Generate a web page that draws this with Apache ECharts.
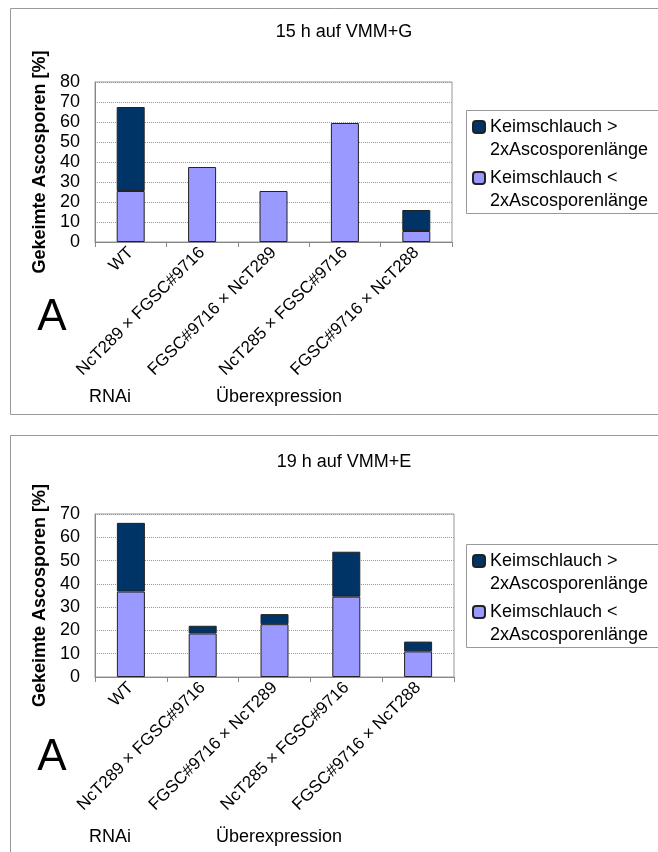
<!DOCTYPE html>
<html>
<head>
<meta charset="utf-8">
<script src="https://cdn.jsdelivr.net/npm/echarts@6/dist/echarts.min.js"></script>
<style>
  html, body { margin: 0; padding: 0; background: #fff; }
  #chart { width: 658px; height: 852px; }
</style>
</head>
<body>
<div id="chart"></div>
<script>
// Kategorien (Kreuzungen)
const categories = ['WT', 'NcT289 × FGSC#9716', 'FGSC#9716 × NcT289', 'NcT285 × FGSC#9716', 'FGSC#9716 × NcT288'];

// 15 h auf VMM+G
const kurz15 = [25.5, 37.5, 25.5, 59.5, 5.5];
const lang15 = [42, null, null, null, 10.5];

// 19 h auf VMM+E
const kurz19 = [36.7, 18.7, 22.7, 34.5, 11];
const lang19 = [29.5, 3.3, 4.3, 19.3, 4.2];

const nameLang = 'Keimschlauch >\n2xAscosporenlänge';
const nameKurz = 'Keimschlauch <\n2xAscosporenlänge';

const FONT = '"Liberation Sans", Arial, sans-serif';
const DARK = '#003366';
const LIGHT = '#9999ff';

const chart = echarts.init(document.getElementById('chart'));

function xAxisFor(idx) {
    return {
        type: 'category',
        gridIndex: idx,
        data: categories,
        axisLine: { lineStyle: { color: '#888' } },
        axisTick: { show: true, length: 5, lineStyle: { color: '#888' } },
        axisLabel: {
            rotate: 45,
            fontSize: 17,
            fontFamily: FONT,
            color: '#000',
            margin: 8,
            interval: 0
        }
    };
}

function yAxisFor(idx, max) {
    return {
        type: 'value',
        gridIndex: idx,
        min: 0,
        max: max,
        interval: 10,
        name: 'Gekeimte Ascosporen [%]',
        nameLocation: 'middle',
        nameGap: 45,
        nameTextStyle: { fontSize: 18, fontWeight: 'bold', fontFamily: FONT, color: '#000' },
        axisLine: { show: true, lineStyle: { color: '#888' } },
        axisTick: { show: false },
        axisLabel: { fontSize: 18, fontFamily: FONT, color: '#000', margin: 15 },
        splitLine: { lineStyle: { type: 'dotted', color: '#999' } }
    };
}

// eine Legende je Eintrag, damit das Symbol auf der ersten Textzeile sitzt
function legendItem(name, top) {
    return {
        data: [name],
        left: 472,
        top: top,
        padding: 0,
        itemWidth: 12,
        itemHeight: 12,
        itemGap: 6,
        selectedMode: false,
        formatter: ' \n{name}',
        textStyle: {
            fontSize: 18,
            fontFamily: FONT,
            color: '#000',
            lineHeight: 23
        }
    };
}

function barSeries(name, data, idx, color) {
    return {
        name: name,
        type: 'bar',
        xAxisIndex: idx,
        yAxisIndex: idx,
        stack: 'stack' + idx,
        data: data,
        barWidth: 28,
        itemStyle: { color: color, borderColor: '#222', borderWidth: 1 }
    };
}

const option = {
    backgroundColor: '#fff',
    animation: false,
    title: [
        { text: '15 h auf VMM+G', left: 339, top: 18, textAlign: 'center',
          textStyle: { fontSize: 18, fontWeight: 'normal', fontFamily: FONT, color: '#000' } },
        { text: '19 h auf VMM+E', left: 339, top: 448, textAlign: 'center',
          textStyle: { fontSize: 18, fontWeight: 'normal', fontFamily: FONT, color: '#000' } }
    ],
    grid: [
        { left: 95, top: 82, width: 357, height: 160, show: true, borderColor: '#999', borderWidth: 1 },
        { left: 95, top: 514, width: 359, height: 163, show: true, borderColor: '#999', borderWidth: 1 }
    ],
    legend: [
        legendItem(nameLang, 92.5),
        legendItem(nameKurz, 143.5),
        legendItem(nameLang, 526.5),
        legendItem(nameKurz, 577.5)
    ],
    xAxis: [xAxisFor(0), xAxisFor(1)],
    yAxis: [yAxisFor(0, 80), yAxisFor(1, 70)],
    series: [
        barSeries(nameKurz, kurz15, 0, LIGHT),
        barSeries(nameLang, lang15, 0, DARK),
        barSeries(nameKurz, kurz19, 1, LIGHT),
        barSeries(nameLang, lang19, 1, DARK)
    ],
    graphic: [
        // Rahmen der beiden Abbildungen
        { type: 'rect', shape: { x: 10.5, y: 8.5, width: 700, height: 406 },
          style: { fill: null, stroke: '#999', lineWidth: 1 } },
        { type: 'rect', shape: { x: 10.5, y: 435.5, width: 700, height: 430 },
          style: { fill: null, stroke: '#999', lineWidth: 1 } },
        // Legendenrahmen
        { type: 'rect', shape: { x: 466.5, y: 110.5, width: 220, height: 103 },
          style: { fill: null, stroke: '#999', lineWidth: 1 } },
        { type: 'rect', shape: { x: 466.5, y: 544.5, width: 220, height: 103 },
          style: { fill: null, stroke: '#999', lineWidth: 1 } },
        // Beschriftungen
        { type: 'text', x: 52, y: 318, style: { text: 'A', fontSize: 44, fontFamily: FONT, fill: '#000', align: 'center', verticalAlign: 'middle' } },
        { type: 'text', x: 52, y: 758, style: { text: 'A', fontSize: 44, fontFamily: FONT, fill: '#000', align: 'center', verticalAlign: 'middle' } },
        { type: 'text', x: 110, y: 397, style: { text: 'RNAi', fontSize: 18, fontFamily: FONT, fill: '#000', align: 'center', verticalAlign: 'middle' } },
        { type: 'text', x: 279, y: 397, style: { text: 'Überexpression', fontSize: 18, fontFamily: FONT, fill: '#000', align: 'center', verticalAlign: 'middle' } },
        { type: 'text', x: 110, y: 837, style: { text: 'RNAi', fontSize: 18, fontFamily: FONT, fill: '#000', align: 'center', verticalAlign: 'middle' } },
        { type: 'text', x: 279, y: 837, style: { text: 'Überexpression', fontSize: 18, fontFamily: FONT, fill: '#000', align: 'center', verticalAlign: 'middle' } }
    ]
};

chart.setOption(option);
</script>
</body>
</html>
